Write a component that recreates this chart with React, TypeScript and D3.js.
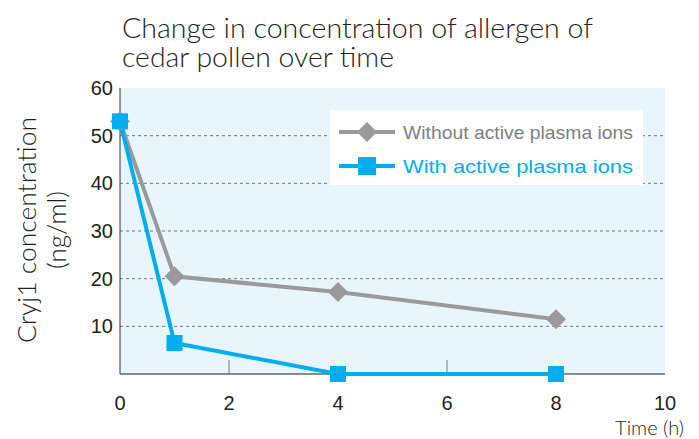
import React from "react";
import * as d3 from "d3";

const times = [0, 1, 4, 8];
const withoutIons = [53, 20.5, 17.2, 11.5];
const withIons = [53, 6.5, 0, 0];
const xTicks = [0, 2, 4, 6, 8, 10];
const yTicks = [10, 20, 30, 40, 50, 60];
const seriesNames = ["Without active plasma ions", "With active plasma ions"];

const W = 699, H = 439;
const left = 120, right = 665, top = 88, bottom = 374;

export default function App() {
  const x = d3.scaleLinear().domain([0, 10]).range([left, right]);
  const y = d3.scaleLinear().domain([0, 60]).range([bottom, top]);
  const line = d3.line<number>().x((_, i) => x(times[i])).y((d) => y(d));
  const gray = "#9a9a9c";
  const blue = "#00aeef";
  const sans = "'Liberation Sans', Arial, sans-serif";
  const titleFont = "Lato, 'Open Sans', sans-serif";
  const diamond = (cx: number, cy: number, r: number) =>
    `M${cx},${cy - r}L${cx + r},${cy}L${cx},${cy + r}L${cx - r},${cy}Z`;
  const sq = 16;
  return (
    <svg width={W} height={H} style={{ position: "absolute", left: 0, top: 0 }}>
      <rect x={0} y={0} width={W} height={H} fill="#fff" />
      <text x={122} y={38} fontFamily={titleFont} fontWeight={300} fontSize={27} fill="#231f20" textLength={471} lengthAdjust="spacingAndGlyphs">
        Change in concentration of allergen of
      </text>
      <text x={122} y={67} fontFamily={titleFont} fontWeight={300} fontSize={27} fill="#231f20" textLength={272} lengthAdjust="spacingAndGlyphs">
        cedar pollen over time
      </text>
      <rect x={left} y={top} width={right - left} height={bottom - top} fill="#e8f5fc" />
      {yTicks.filter((t) => t < 60).map((t) => (
        <line key={t} x1={left} x2={right} y1={y(t)} y2={y(t)} stroke="#777" strokeWidth={1} strokeDasharray="3,3" />
      ))}
      {xTicks.filter((t) => t > 0 && t < 10).map((t) => (
        <line key={t} x1={x(t)} x2={x(t)} y1={bottom} y2={bottom - 14} stroke={t === 4 || t === 8 ? "#fff" : "#777"} strokeWidth={1} />
      ))}
      <line x1={left} x2={left} y1={top} y2={bottom} stroke="#333" strokeWidth={1} />
      <line x1={left} x2={right} y1={bottom} y2={bottom} stroke="#666" strokeWidth={1.5} />
      {yTicks.map((t) => (
        <text key={t} x={113} y={y(t) + 7} textAnchor="end" fontFamily={sans} fontSize={20} fill="#231f20">
          {t}
        </text>
      ))}
      {xTicks.map((t) => (
        <text key={t} x={x(t)} y={410} textAnchor="middle" fontFamily={sans} fontSize={20} fill="#231f20">
          {t}
        </text>
      ))}
      <text x={684} y={435} textAnchor="end" fontFamily={titleFont} fontWeight={300} fontSize={20} fill="#231f20">
        Time (h)
      </text>
      <text transform="translate(36,230) rotate(-90)" textAnchor="middle" fontFamily={titleFont} fontWeight={300} fontSize={26} fill="#231f20" textLength={226} lengthAdjust="spacingAndGlyphs">
        Cryj1 concentration
      </text>
      <text transform="translate(66,230) rotate(-90)" textAnchor="middle" fontFamily={titleFont} fontWeight={300} fontSize={26} fill="#231f20">
        (ng/ml)
      </text>
      <path d={line(withoutIons) || ""} fill="none" stroke={gray} strokeWidth={4} />
      {withoutIons.map((v, i) => (
        <path key={i} d={diamond(x(times[i]), y(v), 10)} fill={gray} />
      ))}
      <path d={line(withIons) || ""} fill="none" stroke={blue} strokeWidth={4} />
      {withIons.map((v, i) => (
        <rect key={i} x={x(times[i]) - sq / 2} y={y(v) - sq / 2} width={sq} height={sq} fill={blue} />
      ))}
      <rect x={330} y={110} width={313} height={75} fill="#fff" />
      <line x1={339} x2={395} y1={132} y2={132} stroke={gray} strokeWidth={4} />
      <path d={diamond(367, 132, 10)} fill={gray} />
      <text x={403} y={139} fontFamily={sans} fontSize={19} fill="#808083" textLength={230} lengthAdjust="spacingAndGlyphs">
        {seriesNames[0]}
      </text>
      <line x1={339} x2={395} y1={166} y2={166} stroke={blue} strokeWidth={4} />
      <rect x={367 - 9} y={166 - 9} width={18} height={18} fill={blue} />
      <text x={403} y={173} fontFamily={sans} fontSize={19} fill={blue} textLength={230} lengthAdjust="spacingAndGlyphs">
        {seriesNames[1]}
      </text>
    </svg>
  );
}
